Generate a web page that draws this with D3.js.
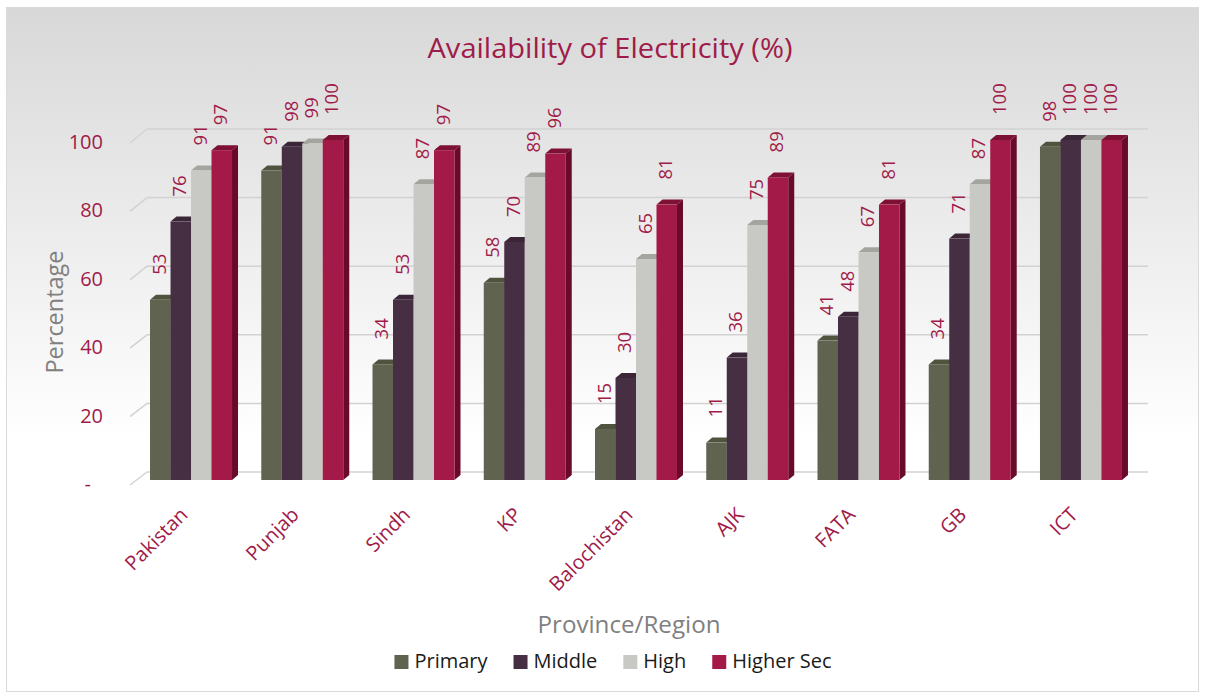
<!DOCTYPE html>
<html>
<head>
<meta charset="utf-8">
<script src="https://cdn.jsdelivr.net/npm/d3@7"></script>
<style>
  html, body { margin: 0; padding: 0; background: #fff; }
  svg { display: block; font-family: "Open Sans", "Noto Sans", sans-serif; }
</style>
</head>
<body>
<div id="chart"></div>
<script>
  // Data
  var regions = ["Pakistan", "Punjab", "Sindh", "KP", "Balochistan", "AJK", "FATA", "GB", "ICT"];
  var seriesNames = ["Primary", "Middle", "High", "Higher Sec"];
  var primary   = [53, 91, 34, 58, 15, 11, 41, 34, 98];
  var middle    = [76, 98, 53, 70, 30, 36, 48, 71, 100];
  var high      = [91, 99, 87, 89, 65, 75, 67, 87, 100];
  var higherSec = [97, 100, 97, 96, 81, 89, 81, 100, 100];
  var yTicks = [0, 20, 40, 60, 80, 100];

  var seriesValues = [primary, middle, high, higherSec];
  var front = ["#5f634f", "#472f43", "#c8c8c4", "#a31a48"];
  var side  = ["#464a39", "#2f1e2c", "#9c9c97", "#6a0a2b"];
  var top_  = ["#50543f", "#3a2636", "#a5a5a0", "#7d1033"];

  var W = 1205, H = 697;
  var crimson = "#a01b49";
  var grey = "#808080";
  var depthX = 6, depthY = 5;

  var svg = d3.select("#chart").append("svg")
      .attr("width", W)
      .attr("height", H);

  // Background with grey-to-white fade
  var grad = svg.append("defs").append("linearGradient")
      .attr("id", "bg")
      .attr("gradientUnits", "userSpaceOnUse")
      .attr("x1", 0).attr("y1", 7).attr("x2", 0).attr("y2", 440);
  grad.append("stop").attr("offset", "0%").attr("stop-color", "#d8d8d8");
  grad.append("stop").attr("offset", "100%").attr("stop-color", "#ffffff");

  svg.append("rect")
      .attr("x", 6.5).attr("y", 7.5)
      .attr("width", 1192).attr("height", 684)
      .attr("fill", "url(#bg)")
      .attr("stroke", "#dadada");

  // Title
  svg.append("text")
      .attr("x", 610).attr("y", 58)
      .attr("text-anchor", "middle")
      .attr("fill", crimson)
      .attr("font-size", 28)
      .attr("textLength", 365)
      .attr("lengthAdjust", "spacingAndGlyphs")
      .text("Availability of Electricity (%)");

  // Scales
  var x0 = d3.scaleBand()
      .domain(regions)
      .range([135.4, 1136.6])
      .paddingInner(0.263)
      .paddingOuter(0.1315);

  var x1 = d3.scaleBand()
      .domain(d3.range(seriesNames.length))
      .range([0, x0.bandwidth()]);

  var yBar   = d3.scaleLinear().domain([0, 100]).range([480, 140]);
  var yBack  = d3.scaleLinear().domain([0, 100]).range([472, 129]);
  var yFront = d3.scaleLinear().domain([0, 100]).range([484, 142]);

  // Back wall gridlines + side diagonals
  var grid = svg.append("g").attr("class", "grid");
  grid.selectAll("line.h")
      .data(yTicks)
      .enter().append("line")
      .attr("class", "h")
      .attr("x1", 147).attr("x2", 1148)
      .attr("y1", function(d) { return yBack(d); })
      .attr("y2", function(d) { return yBack(d); })
      .attr("stroke", "#d2d2d2")
      .attr("stroke-width", 1.5);
  grid.selectAll("line.d")
      .data(yTicks)
      .enter().append("line")
      .attr("class", "d")
      .attr("x1", 130).attr("x2", 147)
      .attr("y1", function(d) { return yFront(d) + 1; })
      .attr("y2", function(d) { return yBack(d); })
      .attr("stroke", "#d2d2d2")
      .attr("stroke-width", 1.5);

  // Y axis labels
  var yAxis = svg.append("g")
      .attr("class", "axis axis-y")
      .attr("transform", "translate(110,0)")
      .call(d3.axisLeft(yFront)
        .tickValues(yTicks)
        .tickSize(0)
        .tickPadding(7)
        .tickFormat(function(d) { return d === 0 ? "-" : d; }));
  yAxis.select(".domain").remove();
  yAxis.selectAll("text")
      .attr("fill", crimson)
      .attr("font-size", 20)
      .attr("font-family", "\"Open Sans\", sans-serif")
      .attr("dx", function(d) { return d === 0 ? -12 : 0; });

  // Bars
  var scenes = [];
  regions.forEach(function(r, i) {
    seriesValues.forEach(function(vals, s) {
      scenes.push({region: r, series: s, value: vals[i]});
    });
  });

  var bars = svg.append("g").attr("class", "bars")
      .selectAll("g.bar")
      .data(scenes)
      .enter().append("g")
      .attr("class", "bar");

  function bx(d) { return x0(d.region) + x1(d.series); }
  var bw = x1.bandwidth();
  var y0 = yBar(0);

  bars.append("polygon")
      .attr("fill", function(d) { return side[d.series]; })
      .attr("points", function(d) {
        var xr = bx(d) + bw, yt = yBar(d.value);
        return [[xr, yt], [xr + depthX, yt - depthY], [xr + depthX, y0 - depthY], [xr, y0]].join(" ");
      });
  bars.append("polygon")
      .attr("fill", function(d) { return top_[d.series]; })
      .attr("points", function(d) {
        var xl = bx(d), yt = yBar(d.value);
        return [[xl, yt], [xl + depthX, yt - depthY], [xl + bw + depthX, yt - depthY], [xl + bw, yt]].join(" ");
      });
  bars.append("rect")
      .attr("x", bx)
      .attr("y", function(d) { return yBar(d.value); })
      .attr("width", bw)
      .attr("height", function(d) { return y0 - yBar(d.value); })
      .attr("fill", function(d) { return front[d.series]; });

  // Value labels, rotated
  svg.append("g").attr("class", "values")
      .selectAll("text")
      .data(scenes)
      .enter().append("text")
      .attr("transform", function(d) {
        return "translate(" + (bx(d) + bw / 2 - 1) + "," + (yBar(d.value) - 25) + ") rotate(-90)";
      })
      .attr("dy", "0.35em")
      .attr("fill", crimson)
      .attr("font-size", 18.5)
      .text(function(d) { return d.value; });

  // X category labels
  svg.append("g").attr("class", "axis axis-x")
      .selectAll("text")
      .data(regions)
      .enter().append("text")
      .attr("transform", function(d) {
        return "translate(" + (x0(d) + x0.bandwidth() / 2 - 2) + ",516) rotate(-45)";
      })
      .attr("text-anchor", "end")
      .attr("fill", crimson)
      .attr("font-size", 20)
      .text(function(d) { return d; });

  // Axis titles
  svg.append("text")
      .attr("transform", "translate(55,312) rotate(-90)")
      .attr("text-anchor", "middle")
      .attr("dy", "0.35em")
      .attr("fill", grey)
      .attr("font-size", 23)
      .attr("textLength", 123)
      .attr("lengthAdjust", "spacingAndGlyphs")
      .text("Percentage");

  svg.append("text")
      .attr("x", 629).attr("y", 633)
      .attr("text-anchor", "middle")
      .attr("fill", grey)
      .attr("font-size", 23)
      .attr("textLength", 183)
      .attr("lengthAdjust", "spacingAndGlyphs")
      .text("Province/Region");

  // Legend
  var legend = svg.append("g").attr("class", "legend");
  var item = legend.selectAll("g")
      .data(seriesNames)
      .enter().append("g");
  item.append("rect")
      .attr("width", 14).attr("height", 14)
      .attr("y", 655)
      .attr("fill", function(d, i) { return front[i]; });
  item.append("text")
      .attr("x", 20).attr("y", 668)
      .attr("fill", "#1a1a1a")
      .attr("font-size", 20)
      .text(function(d) { return d; });

  var lx = 0, widths = [];
  item.each(function() {
    var w = d3.select(this).select("text").node().getComputedTextLength();
    widths.push(20 + w);
  });
  var total = d3.sum(widths) + 26 * (widths.length - 1);
  lx = 613 - total / 2;
  item.attr("transform", function(d, i) {
    var t = "translate(" + lx + ",0)";
    lx += widths[i] + 26;
    return t;
  });
</script>
</body>
</html>
